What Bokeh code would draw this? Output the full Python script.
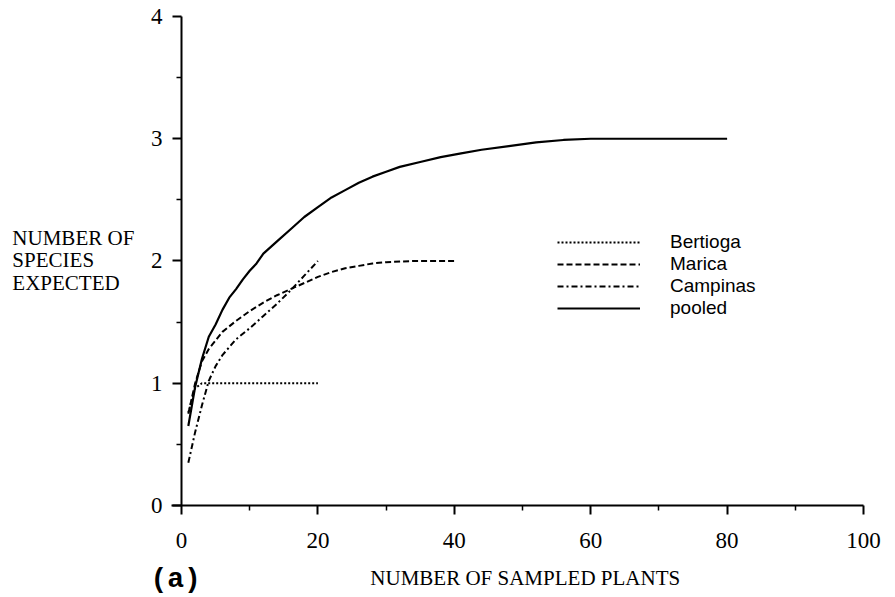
from bokeh.plotting import figure
from bokeh.models import Legend, LegendItem, FixedTicker
from bokeh.core.properties import value
from bokeh.embed import file_html
from bokeh.resources import INLINE

# Expected number of species vs. number of sampled plants (rarefaction curves)
bertioga_n = [1, 2, 3, 4, 6, 8, 10, 12, 14, 16, 18, 20]
bertioga_s = [0.76, 0.96, 1.0, 1.0, 1.0, 1.0, 1.0, 1.0, 1.0, 1.0, 1.0, 1.0]

marica_n = [1, 2, 3, 4, 6, 8, 10, 12, 14, 16, 18, 20, 22, 24, 26, 28, 30, 34, 40]
marica_s = [0.75, 1.0, 1.18, 1.28, 1.42, 1.51, 1.59, 1.66, 1.72, 1.77, 1.82, 1.87,
            1.91, 1.94, 1.96, 1.98, 1.99, 2.0, 2.0]

campinas_n = [1, 2, 3, 4, 5, 6, 8, 10, 12, 14, 16, 18, 20]
campinas_s = [0.35, 0.6, 0.82, 1.02, 1.14, 1.23, 1.36, 1.45, 1.55, 1.65, 1.76, 1.88, 2.0]

pooled_n = [1, 2, 3, 4, 5, 6, 7, 8, 9, 10, 11, 12, 14, 16, 18, 20, 22, 24, 26, 28,
            30, 32, 35, 38, 41, 44, 48, 52, 56, 60, 70, 80]
pooled_s = [0.65, 0.97, 1.2, 1.38, 1.48, 1.6, 1.7, 1.77, 1.85, 1.92, 1.98, 2.06,
            2.16, 2.26, 2.36, 2.44, 2.52, 2.58, 2.64, 2.69, 2.73, 2.77, 2.81, 2.85,
            2.88, 2.91, 2.94, 2.97, 2.99, 3.0, 3.0, 3.0]

x_ticks = [0, 20, 40, 60, 80, 100]
x_minor = [10, 30, 50, 70, 90]
y_ticks = [0, 1, 2, 3, 4]
y_minor = [0.5, 1.5, 2.5, 3.5]

y_title = ["NUMBER OF", "SPECIES", "EXPECTED"]
x_title = "NUMBER OF SAMPLED PLANTS"
panel_tag = "(a)"

SERIF = "Liberation Serif"

# The frame spans the whole canvas; axes sit at x=0 / y=0 so that the
# surrounding titles can be placed as ordinary text in data space.
p = figure(width=895, height=597, x_range=(-26.54, 104.69), y_range=(-0.7526, 4.1309),
           output_backend="svg", toolbar_location=None, min_border=0,
           min_border_left=0, min_border_right=0, min_border_top=0, min_border_bottom=0)
p.outline_line_color = None
p.xgrid.visible = False
p.ygrid.visible = False
p.background_fill_color = "white"
p.border_fill_color = "white"

for ax in (p.xaxis[0], p.yaxis[0]):
    ax.fixed_location = 0
    ax.axis_line_width = 2
    ax.major_tick_line_width = 2
    ax.minor_tick_line_width = 1.5
    ax.major_tick_in = 0
    ax.minor_tick_in = 0
    ax.major_tick_out = 9
    ax.minor_tick_out = 5
    ax.major_label_text_font = SERIF
    ax.major_label_text_font_size = "23px"
    ax.major_label_text_color = "black"
    ax.axis_line_color = "black"
    ax.major_tick_line_color = "black"
    ax.minor_tick_line_color = "black"

p.xaxis[0].ticker = FixedTicker(ticks=x_ticks, minor_ticks=x_minor)
p.yaxis[0].ticker = FixedTicker(ticks=y_ticks, minor_ticks=y_minor)
p.xaxis[0].bounds = (-1.5, 100)
p.yaxis[0].bounds = (0, 4)
p.xaxis[0].major_label_standoff = 19
p.yaxis[0].major_label_standoff = 10

r_bert = p.line(bertioga_n, bertioga_s, line_color="black", line_width=2, line_dash="2 2")
r_mar = p.line(marica_n, marica_s, line_color="black", line_width=2, line_dash="6 3")
r_camp = p.line(campinas_n, campinas_s, line_color="black", line_width=2, line_dash="6 3 2 3")
r_pool = p.line(pooled_n, pooled_s, line_color="black", line_width=2.2)

legend = Legend(items=[
    LegendItem(label="Bertioga", renderers=[r_bert]),
    LegendItem(label="Marica", renderers=[r_mar]),
    LegendItem(label="Campinas", renderers=[r_camp]),
    LegendItem(label="pooled", renderers=[r_pool]),
], location=(557, 278), padding=0, margin=0, spacing=0,
    glyph_width=83, glyph_height=22, label_height=22, label_standoff=30,
    label_text_font="Liberation Sans", label_text_font_size="19px",
    label_text_color="black",
    border_line_color=None, background_fill_alpha=0)
p.add_layout(legend)

# y-axis title, set horizontally on three lines left of the axis
p.text(x=[-24.8] * 3, y=[2.190, 2.006, 1.818], text=y_title,
       text_font=value(SERIF), text_font_size="21px", text_color="black",
       text_align="left", text_baseline="middle")

# x-axis title
p.text(x=[50.4], y=[-0.592], text=[x_title],
       text_font=value(SERIF), text_font_size="21px", text_color="black",
       text_align="center", text_baseline="middle")

# panel tag under the left end of the x axis
p.text(x=[-4.55], y=[-0.605], text=[panel_tag],
       text_font=value("Liberation Mono"), text_font_style="bold",
       text_font_size="28px", text_color="black",
       text_align="left", text_baseline="middle")

open("out.html", "w").write(file_html(p, INLINE))
